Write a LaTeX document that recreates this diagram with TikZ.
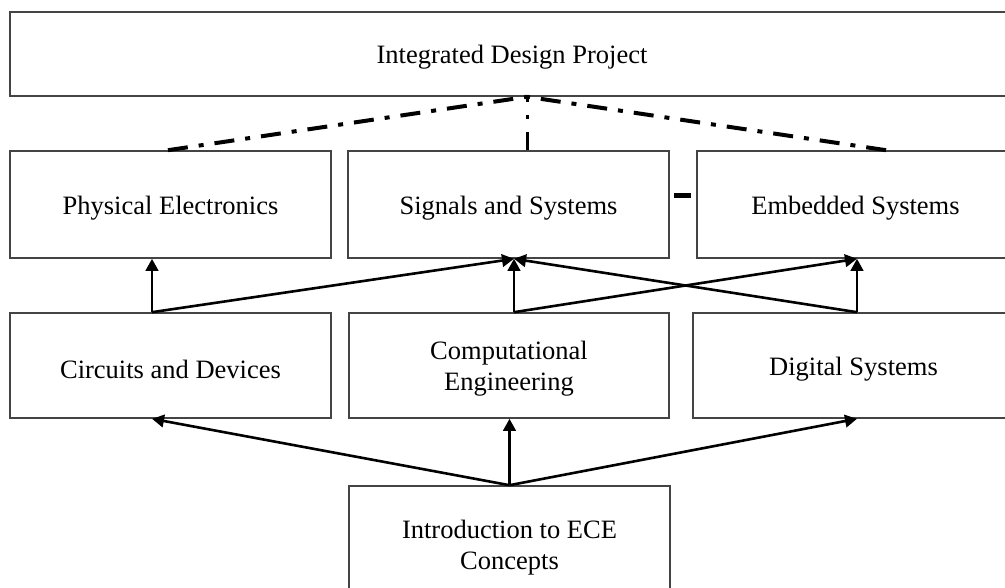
\documentclass[tikz,border=0pt]{standalone}
\usepackage{fontspec}
\setmainfont{Liberation Serif}
\usetikzlibrary{arrows.meta,calc}
\definecolor{boxline}{HTML}{444444}
\begin{document}
\begin{tikzpicture}[x=1pt,y=-1pt,
  course/.style={draw=boxline,line width=1.6pt,rectangle,inner sep=0pt,
    label={[yshift=-3.5pt,align=center,font=\fontsize{26.5}{31}\selectfont]center:{#1}}},
  prereq/.style={line width=2.6pt,-{Triangle[length=12pt,width=12.5pt]}},
  capstone/.style={line width=4pt,dash pattern=on 20pt off 11pt on 5pt off 11pt},
  link/.style={line width=5pt}]
\useasboundingbox (0,0) rectangle (1005,588);
\clip (0,0) rectangle (1005,588);

% course boxes
\node[course={Integrated Design Project},minimum width=1004pt,minimum height=84pt] (idp) at (512,54) {};

\node[course={Physical Electronics},minimum width=321pt,minimum height=107pt] (phys) at (170.5,204.5) {};
\node[course={Signals and Systems},minimum width=321pt,minimum height=107pt] (sig) at (508.5,204.5) {};
\node[course={Embedded Systems},minimum width=317pt,minimum height=107pt] (emb) at (855.5,204.5) {};

\node[course={Circuits and Devices},minimum width=321pt,minimum height=105pt] (cir) at (170.5,365.5) {};
\node[course={Computational\\Engineering},minimum width=320pt,minimum height=105pt] (comp) at (509,365.5) {};
\node[course={Digital Systems},minimum width=321pt,minimum height=105pt] (dig) at (853.5,365.5) {};

\node[course={Introduction to ECE\\Concepts},minimum width=321pt,minimum height=116pt] (intro) at (509.5,544) {};

% connection columns
\coordinate (cA) at (152,0);
\coordinate (cB) at (514,0);
\coordinate (cC) at (857,0);
\coordinate (tP) at (168,0);
\coordinate (tS) at (527,0);
\coordinate (tE) at (886,0);
\coordinate (gy) at (0,196);

% links to the design project
\draw[capstone] (phys.north -| tP) -- (idp.south -| tS);
\draw[capstone,line width=3pt,dash pattern=on 18pt off 13pt on 4pt off 13pt] (sig.north -| tS) -- (idp.south -| tS);
\draw[capstone] (emb.north -| tE) -- (idp.south -| tS);
\draw[link,shorten <=4pt,shorten >=5pt] (sig.east |- gy) -- (emb.west |- gy);

% second year to third year
\draw[prereq] (cir.north -| cA) -- (phys.south -| cA);
\draw[prereq] (cir.north -| cA) -- (sig.south -| cB);
\draw[prereq] (comp.north -| cB) -- (sig.south -| cB);
\draw[prereq] (comp.north -| cB) -- (emb.south -| cC);
\draw[prereq] (dig.north -| cC) -- (emb.south -| cC);
\draw[prereq] (dig.north -| cC) -- (sig.south -| cB);

% first year to second year
\draw[prereq] (intro.north) -- (cir.south -| cA);
\draw[prereq] (intro.north) -- (comp.south -| intro.north);
\draw[prereq] (intro.north) -- (dig.south -| cC);
\end{tikzpicture}
\end{document}
